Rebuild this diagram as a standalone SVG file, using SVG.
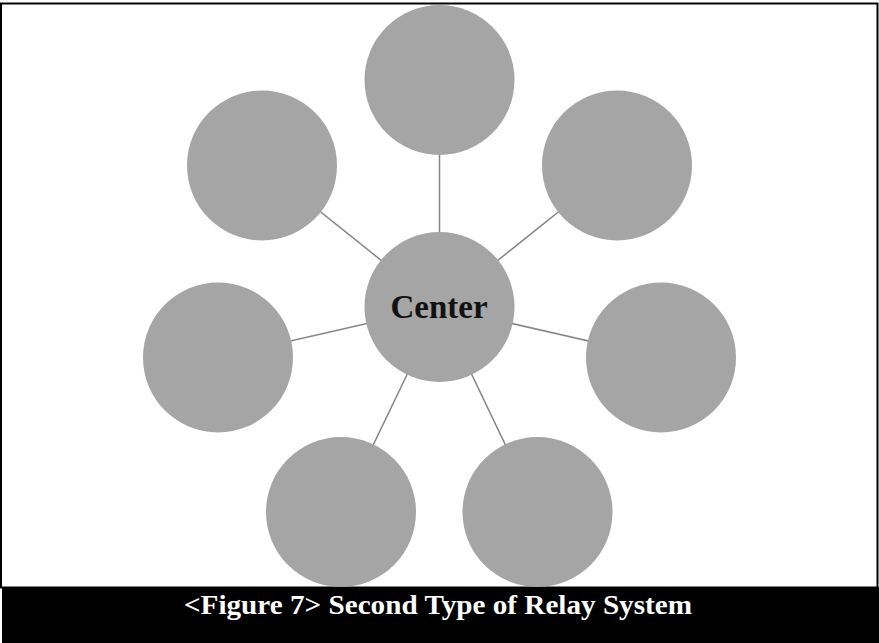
<svg xmlns="http://www.w3.org/2000/svg" width="879" height="643" viewBox="0 0 879 643">
<style>
.node{fill:#a5a5a5}
.conn{stroke:#858585;stroke-width:1.5;fill:none}
.lbl{font-family:"Liberation Serif","Times New Roman",serif;font-weight:bold}
</style>
<rect x="0" y="0" width="879" height="643" fill="#ffffff"/>
<rect x="1" y="3.5" width="876.5" height="584" fill="none" stroke="#000" stroke-width="2"/>
<g id="connectors">
<line class="conn" x1="439.5" y1="307" x2="439.5" y2="80"/>
<line class="conn" x1="439.5" y1="307" x2="262" y2="165"/>
<line class="conn" x1="439.5" y1="307" x2="617" y2="165"/>
<line class="conn" x1="439.5" y1="307" x2="218" y2="357.5"/>
<line class="conn" x1="439.5" y1="307" x2="661" y2="357.5"/>
<line class="conn" x1="439.5" y1="307" x2="341" y2="512"/>
<line class="conn" x1="439.5" y1="307" x2="537.5" y2="512"/>
</g>
<g id="node-top"><circle class="node" cx="439.5" cy="80" r="75"/></g>
<g id="node-upper-left"><circle class="node" cx="262" cy="165.5" r="75"/></g>
<g id="node-upper-right"><circle class="node" cx="617" cy="165.5" r="75"/></g>
<g id="node-left"><circle class="node" cx="218" cy="357.5" r="75"/></g>
<g id="node-right"><circle class="node" cx="661" cy="357.5" r="75"/></g>
<g id="node-bottom-left"><circle class="node" cx="341" cy="512" r="75"/></g>
<g id="node-bottom-right"><circle class="node" cx="537.5" cy="512" r="75"/></g>
<g id="node-center">
<circle class="node" cx="439.5" cy="307" r="75"/>
<text class="lbl" x="439" y="318" font-size="33" text-anchor="middle" fill="#111">Center</text>
</g>
<g id="caption">
<rect x="2" y="587" width="877" height="56" fill="#000"/>
<text class="lbl" x="184" y="614" font-size="27" textLength="508" lengthAdjust="spacingAndGlyphs" fill="#fff">&lt;Figure 7&gt; Second Type of Relay System</text>
</g>
</svg>
